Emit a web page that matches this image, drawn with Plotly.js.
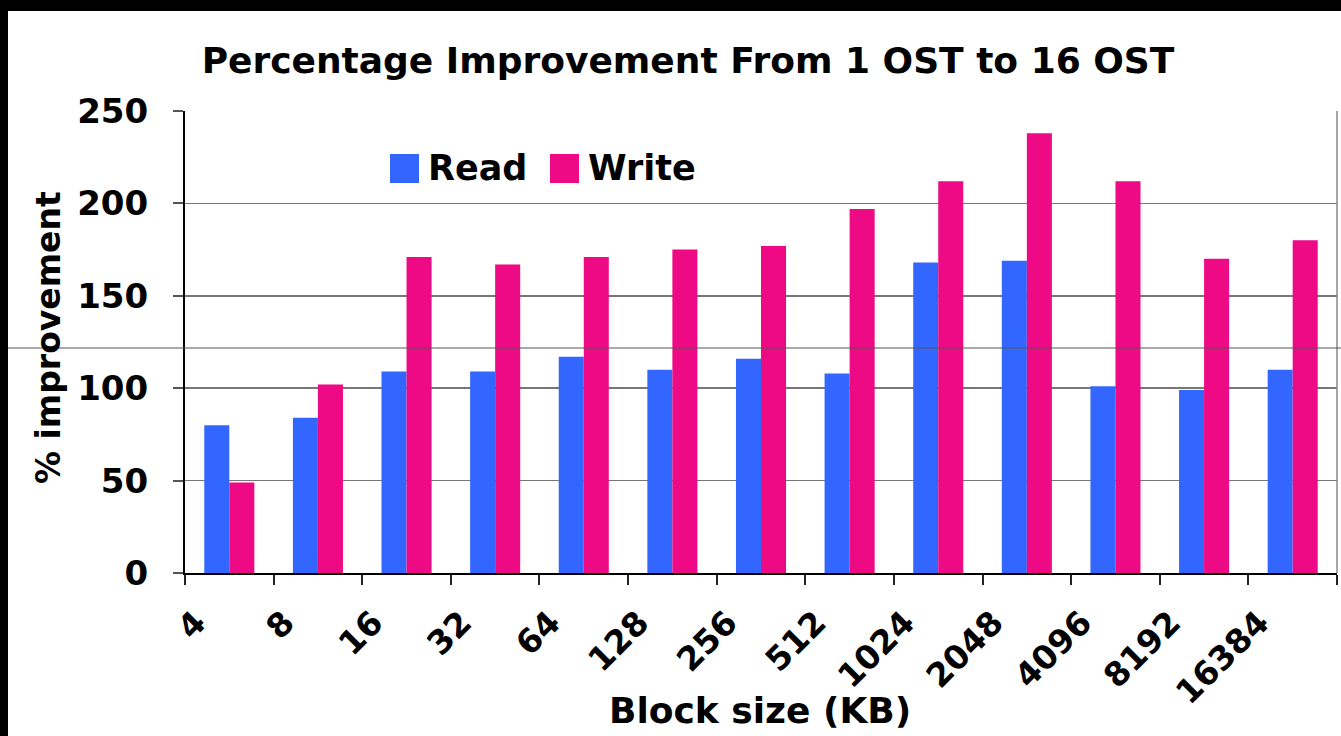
<!DOCTYPE html>
<html>
<head>
<meta charset="utf-8">
<script src="https://cdn.plot.ly/plotly-3.0.1.min.js"></script>
<style>
  html, body { margin: 0; padding: 0; background: #000; width: 1341px; height: 736px; overflow: hidden; }
  #chart { position: absolute; left: 8px; top: 11px; width: 1333px; height: 725px; background: #fff; }
</style>
</head>
<body>
<div id="chart"></div>
<script>
const categories = ["4", "8", "16", "32", "64", "128", "256", "512", "1024", "2048", "4096", "8192", "16384"];
const readValues  = [80, 84, 109, 109, 117, 110, 116, 108, 168, 169, 101, 99, 110];
const writeValues = [49, 102, 171, 167, 171, 175, 177, 197, 212, 238, 212, 170, 180];
const seriesNames = ["Read", "Write"];
const seriesColors = ["#3366FF", "#EE0A84"];
const yTicks = [0, 50, 100, 150, 200, 250];
const chartTitle = "Percentage Improvement From 1 OST to 16 OST";
const xTitle = "Block size (KB)";
const yTitle = "% improvement";

const idx = categories.map((c, i) => i);
const tickVals = idx.map(i => i - 0.5).concat([categories.length - 0.5]);
const tickText = categories.concat([""]);

const FONT = "DejaVu Sans, Verdana, sans-serif";
const bold = (size) => ({ family: FONT, size: size, color: "#000", weight: "bold" });

const traces = [
  { type: "bar", name: seriesNames[0], x: idx, y: readValues, marker: { color: seriesColors[0] }, showlegend: false },
  { type: "bar", name: seriesNames[1], x: idx, y: writeValues, marker: { color: seriesColors[1] }, showlegend: false }
];

// plot area in div pixel coordinates
const W = 1333, H = 725, L = 177, R = 4, T = 100, B = 163;
const pw = W - L - R, ph = H - T - B;
const px = x => (x - L) / pw;
const py = y => (H - B - y) / ph;

const shapes = [
  { type: "line", xref: "paper", yref: "paper", x0: 1, x1: 1, y0: 0, y1: 1, line: { color: "#888", width: 1.5 } },
  { type: "rect", xref: "paper", yref: "paper", x0: px(382), x1: px(411), y0: py(172), y1: py(143), fillcolor: seriesColors[0], line: { width: 0 } },
  { type: "rect", xref: "paper", yref: "paper", x0: px(542), x1: px(571), y0: py(172), y1: py(143), fillcolor: seriesColors[1], line: { width: 0 } },
  { type: "line", xref: "paper", yref: "paper", x0: px(0), x1: px(W), y0: py(337), y1: py(337), line: { color: "#555", width: 1 }, layer: "above" }
];

const annotations = [
  { xref: "paper", yref: "paper", x: px(418), y: py(157), xanchor: "left", yanchor: "middle", showarrow: false, text: seriesNames[0], font: bold(35) },
  { xref: "paper", yref: "paper", x: px(578), y: py(157), xanchor: "left", yanchor: "middle", showarrow: false, text: seriesNames[1], font: bold(35) },
  { xref: "paper", yref: "paper", x: px(752), y: py(699), xanchor: "center", yanchor: "middle", showarrow: false, text: xTitle, font: bold(36) },
  { xref: "paper", yref: "paper", x: px(40), y: py(327), xanchor: "center", yanchor: "middle", textangle: -90, showarrow: false, text: yTitle, font: bold(33) }
];

const layout = {
  width: W, height: H,
  margin: { l: L, r: R, t: T, b: B },
  paper_bgcolor: "#fff",
  plot_bgcolor: "#fff",
  font: { family: FONT, color: "#000", weight: "bold" },
  title: {
    text: chartTitle,
    font: bold(36),
    xref: "container", x: 680 / W, xanchor: "center",
    yref: "container", y: 1 - 49 / H, yanchor: "middle"
  },
  barmode: "group",
  bargap: 0.435,
  bargroupgap: 0,
  showlegend: false,
  xaxis: {
    range: [-0.5, categories.length - 0.5],
    tickmode: "array", tickvals: tickVals, ticktext: tickText,
    tickangle: -45,
    ticks: "outside", ticklen: 10, tickwidth: 2, tickcolor: "#222",
    showline: true, linecolor: "#000", linewidth: 2,
    showgrid: false, zeroline: false,
    tickfont: bold(33),
    ticklabelshift: 11,
    ticklabelstandoff: 5,
    fixedrange: true
  },
  yaxis: {
    range: [0, 250],
    tickmode: "array", tickvals: yTicks,
    ticks: "outside", ticklen: 10, tickwidth: 2, tickcolor: "#555",
    showline: true, linecolor: "#000", linewidth: 2,
    showgrid: true, gridcolor: "#777", gridwidth: 1.5,
    zeroline: false,
    tickfont: bold(34),
    ticklabelstandoff: 18,
    fixedrange: true
  },
  shapes: shapes,
  annotations: annotations
};

Plotly.newPlot("chart", traces, layout, { displayModeBar: false, staticPlot: true });
</script>
</body>
</html>
